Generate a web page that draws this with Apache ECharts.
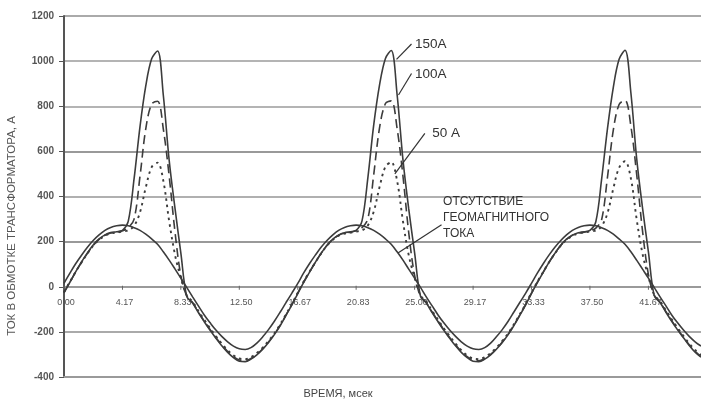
<!DOCTYPE html>
<html><head><meta charset="utf-8">
<script src="https://cdn.jsdelivr.net/npm/echarts@6/dist/echarts.min.js"></script>
<style>html,body{margin:0;padding:0;background:#fff}#c{width:701px;height:402px}</style>
</head><body><div id="c"></div>
<script>
// time, ms
const timeMs = [0,0.42,0.83,1.25,1.67,2.08,2.5,2.92,3.33,3.75,4.17,4.58,5,5.42,5.83,6.25,6.67,7.08,7.5,7.92,8.33,8.75,9.17,9.58,10,10.42,10.83,11.25,11.67,12.08,12.5,12.92,13.33,13.75,14.17,14.58,15,15.42,15.83,16.25,
16.67,17.08,17.5,17.92,18.33,18.75,19.17,19.58,20,20.42,20.83,21.25,21.67,22.08,22.5,22.92,23.33,23.75,24.17,24.58,25,25.42,25.83,26.25,26.67,27.08,27.5,27.92,28.33,28.75,29.17,29.58,30,30.42,30.83,31.25,31.67,32.08,32.5,32.92,
33.33,33.75,34.17,34.58,35,35.42,35.83,36.25,36.67,37.08,37.5,37.92,38.33,38.75,39.17,39.58,40,40.42,40.83,41.25,41.67,42.08,42.5,42.92,43.33,43.75,44.17,44.58,45,45.42];

const current150A = [-27,20,66,110,150,185,212,230,240,244,250,290,480,710,890,1010,1045,850,560,345,150,-42,-72,-115,-155,-193,-228,-262,-291,-314,-330,-332,-321,-302,-277,-247,-212,-172,-127,-80,
-30,18,64,108,148,184,211,229,239,244,250,292,485,715,895,1012,1047,852,562,345,150,-42,-72,-115,-155,-193,-228,-262,-291,-314,-330,-332,-321,-302,-277,-247,-212,-172,-127,-80,
-30,18,64,108,148,184,211,229,239,244,250,288,475,700,885,1008,1048,860,570,350,155,-38,-70,-113,-153,-191,-226,-260,-290,-312];

const current100A = [-25,20,65,108,148,183,210,228,238,242,248,262,300,490,700,810,822,700,490,240,50,-40,-70,-112,-152,-190,-225,-258,-287,-310,-325,-328,-318,-300,-275,-245,-210,-170,-125,-78,
-28,20,65,108,148,183,210,228,238,242,248,262,302,495,705,812,824,702,490,240,50,-40,-70,-112,-152,-190,-225,-258,-287,-310,-325,-328,-318,-300,-275,-245,-210,-170,-125,-78,
-28,20,65,108,148,183,210,228,238,242,248,260,296,485,695,808,826,712,500,248,55,-37,-68,-110,-150,-188,-224,-257,-286,-309];

const current50A = [-23,22,66,108,147,182,208,226,236,240,245,250,270,330,440,530,550,470,290,140,40,-38,-66,-107,-146,-184,-219,-252,-281,-304,-318,-321,-312,-294,-270,-240,-206,-166,-122,-76,
-26,22,66,108,147,182,208,226,236,240,245,250,272,332,442,532,552,470,290,140,40,-38,-66,-107,-146,-184,-219,-252,-281,-304,-318,-321,-312,-294,-270,-240,-206,-166,-122,-76,
-26,22,66,108,147,182,208,226,236,240,245,249,268,326,436,528,556,480,300,146,44,-35,-64,-105,-144,-182,-218,-251,-280,-303];

const currentNoGIC = [15,60,102,140,175,205,230,250,263,270,273,270,262,250,233,212,188,155,118,78,38,-3,-45,-85,-125,-160,-192,-220,-244,-263,-275,-278,-270,-250,-222,-190,-153,-112,-70,-28,
15,60,102,140,175,205,230,250,263,270,273,270,262,250,233,212,188,155,118,78,38,-3,-45,-85,-125,-160,-192,-220,-244,-263,-275,-278,-270,-250,-222,-190,-153,-112,-70,-28,
15,60,102,140,175,205,230,250,263,270,273,270,262,250,233,212,188,155,118,78,38,-3,-45,-85,-125,-160,-192,-220,-244,-263];

const yTicks = {min:-400, max:1200, step:200};
const xRange = {min:0, max:45.42};
const xTickLabels = ['0.00','4.17','8.33','12.50','16.67','20.83','25.00','29.17','33.33','37.50','41.67'];

// annotations (ms, A)
const annotText = ['150A','100A','50 A','ОТСУТСТВИЕ\nГЕОМАГНИТНОГО\nТОКА'];
const annotFrom = [[23.71,1008],[23.85,850],[23.59,500],[23.81,150]];
const annotTo   = [[24.78,1076],[24.78,945],[25.73,680],[26.92,275]];
const annotTextAt = [[25.03,1076],[25.03,943],[26.25,678],[27.03,306]];

const lineColor = '#3c3c3c';
function mk(name, arr, type, w){
  return {name, type:'line', data: timeMs.map((t,i)=>[t,arr[i]]), showSymbol:false, smooth:0.35,
    lineStyle:{color:lineColor, width:w, type:type}, z:3, animation:false};
}

const chart = echarts.init(document.getElementById('c'), null, {renderer:'canvas'});
chart.setOption({
  backgroundColor:'#fff',
  animation:false,
  grid:{left:64, right:0, top:16, bottom:25},
  xAxis:{type:'value', min:xRange.min, max:xRange.max,
    axisLine:{show:true, onZero:false, lineStyle:{color:'#9a9a9a', width:2}},
    axisTick:{show:false},
    axisLabel:{show:false},
    splitLine:{show:false}},
  yAxis:{type:'value', min:yTicks.min, max:yTicks.max, interval:yTicks.step,
    axisLine:{show:true, onZero:false, lineStyle:{color:'#555', width:2}},
    axisTick:{show:true, length:5, lineStyle:{color:'#555'}},
    axisLabel:{fontSize:10, fontWeight:'bold', color:'#555', margin:10, fontFamily:'Liberation Sans', formatter:v=>String(v)},
    splitLine:{show:true, lineStyle:{color:['#9a9a9a','#aaa','#9a9a9a','#999','#b0b0b0','#999','#b4b4b4','#b4b4b4','#aaa'], width:2}}},
  series:[
    mk('150A', current150A, 'solid', 1.6),
    mk('100A', current100A, [9,5], 1.6),
    mk('50 A', current50A, [2.5,4], 1.9),
    mk('Отсутствие', currentNoGIC, 'solid', 1.6)
  ]
});

const g = [];
g.push({type:'text', x:12, y:226, rotation:Math.PI/2, style:{text:'ТОК В ОБМОТКЕ ТРАНСФОРМАТОРА, А', font:'11.5px "Liberation Sans"', fill:'#555', align:'center', verticalAlign:'middle'}});
g.push({type:'text', x:338, y:394, style:{text:'ВРЕМЯ, мсек', font:'11px "Liberation Sans"', fill:'#444', align:'center', verticalAlign:'middle'}});
// x tick labels along the zero line
for(const lab of xTickLabels){
  const p = chart.convertToPixel({gridIndex:0}, [parseFloat(lab), 0]);
  g.push({type:'line', shape:{x1:p[0],y1:p[1]-1,x2:p[0],y2:p[1]+3}, style:{stroke:'#666', lineWidth:1}, z:2});
  g.push({type:'text', x:p[0]+2, y:p[1]+16, z:1, style:{text:lab, font:'9px "Liberation Sans"', fill:'#555', align:'center', verticalAlign:'middle'}});
}
for(let k=0;k<annotText.length;k++){
  const a = chart.convertToPixel({gridIndex:0}, annotFrom[k]);
  const b = chart.convertToPixel({gridIndex:0}, annotTo[k]);
  const p = chart.convertToPixel({gridIndex:0}, annotTextAt[k]);
  g.push({type:'line', shape:{x1:a[0],y1:a[1],x2:b[0],y2:b[1]}, style:{stroke:'#333', lineWidth:1.2}, z:10});
  const multi = k===3;
  g.push({type:'text', x:p[0], y:p[1], z:10, style:{text:annotText[k], font:(multi?'12px':'13.5px')+' "Liberation Sans"', fill:'#333', align:'left', verticalAlign:'middle', lineHeight:16}});
}
chart.setOption({graphic:g});
</script></body></html>
